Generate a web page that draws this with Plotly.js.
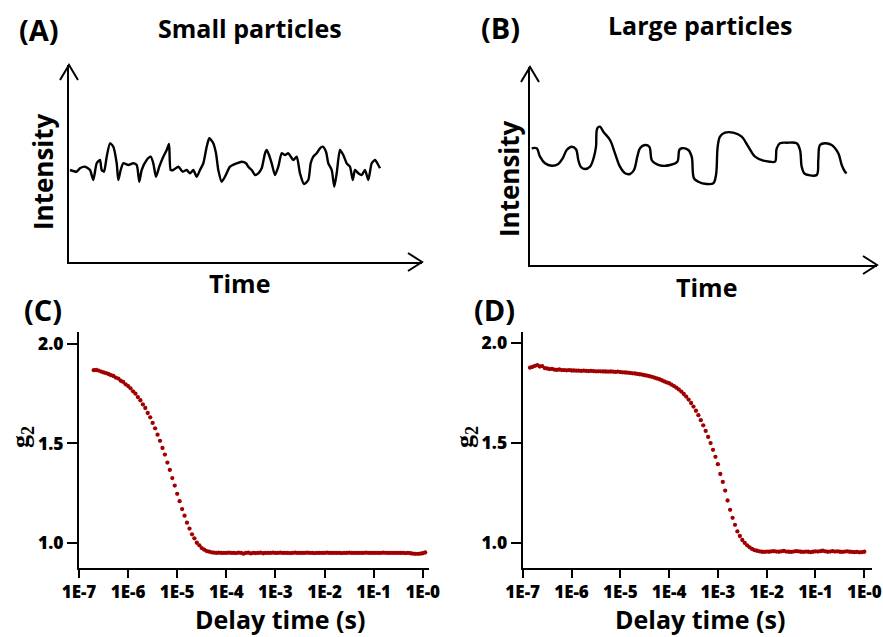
<!DOCTYPE html>
<html><head><meta charset="utf-8">
<script src="https://cdn.plot.ly/plotly-3.0.1.min.js"></script>
<style>html,body{margin:0;padding:0;background:#fff}#chart{width:883px;height:637px}</style>
</head><body><div id="chart"></div>
<script>
// (A) Small particles: intensity trace (arbitrary units)
const timeA = [1,7.7,11,16,21,24.3,27.7,31,32.7,35,37.7,41,44.3,47.7,49.3,51.7,54.3,59.3,64.3,67.7,70.3,72.7,77.7,81.7,84.3,87,90.3,94.3,97.7,100,101.7,104.3,109.3,113.7,117.7,121,124.3,127.7,131,134.3,137.7,140.3,144.3,147,149.3,152.7,156,161,167.7,172.7,177,179.3,182.7,186,189.3,192.7,196,197.7,200,202.7,206,209.3,212.7,216,219.3,224.3,227.7,231,235,239.3,241.7,244.3,247.7,251,253.7,257,259.3,262.7,265.3,267.7,271,274.3,277.7,281,283.7,286,289.3,292.7,296,299.3,302.7,306,309.3,311];
const intensityA = [92,90.3,93.7,95.3,92,82,98.7,102,92,90.3,105.3,118.7,115.3,98.7,82,92,98.7,97,98.7,97,80.3,92,102,105.3,98.7,85.3,95.3,105.3,112,118,92,92,95.3,90.3,92,88.7,92,85.3,92,98.7,115.3,123.7,118.7,108.7,92,80.3,85.3,95.3,98.7,100.3,98.7,95.3,92,87,88.7,93.7,108.7,112,107,98.7,87,95.3,108.7,107,108.7,102,105.3,88.7,78,82,98.7,105.3,108.7,113.7,115.3,110.3,98.7,92,75.3,88.7,112,107,98.7,95.3,82,92,88.7,87,92,82,98.7,102,97,93.7];

// (B) Large particles: intensity trace (arbitrary units)
const timeB = [1.7,6.7,10,15,21.7,28.3,32.7,36.7,41.7,46,48.3,50.7,55,60,64,66,67.3,70,73.3,80,85,90,95,100,104,107.3,110,115,119.3,121.7,125,131.7,140,147.3,149.3,151.7,158.3,161.7,164,168.3,176.7,183.3,186,187.7,190,195,203.3,211.7,218.3,225,233.3,240,245,246.7,250,256.7,266.7,270,271.7,274.3,278.3,286.7,288.3,290,295,301.7,308.3,311.7,315,316.7];
const intensityB = [116.7,116.7,108.3,101.7,99.3,101,106.7,115,118.3,115.7,105,98.3,96,98.3,108.3,118.3,136.7,138.3,133.3,125,111.7,98.3,91.7,91,95,108.3,116.7,120,118.3,105,101.7,99.3,100,103.3,115,116.7,115,108.3,86.7,83.3,81,81.7,90,118.3,128.3,132.3,132.3,128.3,118.3,108.3,104.3,103.3,103.3,116.7,121.7,122.3,121.7,115,98.3,91.7,90,90,105,120,121.7,120,111.7,100,93.3,91.7];

// (C),(D) correlation functions: delay time (s)
const delayTime = [
 1.41e-7,1.58e-7,1.78e-7,2.00e-7,2.24e-7,2.51e-7,2.82e-7,3.16e-7,3.55e-7,3.98e-7,4.47e-7,5.01e-7,5.62e-7,6.31e-7,7.08e-7,7.94e-7,8.91e-7,
 1.00e-6,1.12e-6,1.26e-6,1.41e-6,1.58e-6,1.78e-6,2.00e-6,2.24e-6,2.51e-6,2.82e-6,3.16e-6,3.55e-6,3.98e-6,4.47e-6,5.01e-6,5.62e-6,6.31e-6,7.08e-6,7.94e-6,8.91e-6,
 1.00e-5,1.12e-5,1.26e-5,1.41e-5,1.58e-5,1.78e-5,2.00e-5,2.24e-5,2.51e-5,2.82e-5,3.16e-5,3.55e-5,3.98e-5,4.47e-5,5.01e-5,5.62e-5,6.31e-5,7.08e-5,7.94e-5,8.91e-5,
 1.00e-4,1.12e-4,1.26e-4,1.41e-4,1.58e-4,1.78e-4,2.00e-4,2.24e-4,2.51e-4,2.82e-4,3.16e-4,3.55e-4,3.98e-4,4.47e-4,5.01e-4,5.62e-4,6.31e-4,7.08e-4,7.94e-4,8.91e-4,
 1.00e-3,1.12e-3,1.26e-3,1.41e-3,1.58e-3,1.78e-3,2.00e-3,2.24e-3,2.51e-3,2.82e-3,3.16e-3,3.55e-3,3.98e-3,4.47e-3,5.01e-3,5.62e-3,6.31e-3,7.08e-3,7.94e-3,8.91e-3,
 1.00e-2,1.12e-2,1.26e-2,1.41e-2,1.58e-2,1.78e-2,2.00e-2,2.24e-2,2.51e-2,2.82e-2,3.16e-2,3.55e-2,3.98e-2,4.47e-2,5.01e-2,5.62e-2,6.31e-2,7.08e-2,7.94e-2,8.91e-2,
 1.00e-1,1.12e-1,1.26e-1,1.41e-1,1.58e-1,1.78e-1,2.00e-1,2.24e-1,2.51e-1,2.82e-1,3.16e-1,3.55e-1,3.98e-1,4.47e-1,5.01e-1,5.62e-1,6.31e-1,7.08e-1,7.94e-1,8.91e-1,
 1.00,1.12];
const g2Small = [
 null,null,null,1.868,1.869,1.866,1.861,1.857,1.853,1.849,1.843,1.839,1.831,1.826,1.815,1.809,1.797,
 1.788,1.777,1.762,1.750,1.733,1.717,1.696,1.678,1.653,1.631,1.603,1.576,1.544,1.513,1.477,1.444,1.404,1.367,1.326,1.288,
 1.247,1.210,1.170,1.137,1.102,1.072,1.043,1.023,1.001,0.988,0.974,0.966,0.959,0.956,0.953,0.951,0.950,0.951,0.950,0.950,
 0.950,0.951,0.950,0.950,0.949,0.951,0.950,0.946,0.950,0.951,0.947,0.950,0.949,0.950,0.951,0.948,0.950,0.950,0.950,0.951,
 0.950,0.950,0.951,0.950,0.950,0.950,0.949,0.950,0.951,0.950,0.950,0.950,0.950,0.951,0.950,0.950,0.949,0.950,0.950,0.950,
 0.950,0.951,0.950,0.950,0.950,0.950,0.950,0.949,0.950,0.950,0.951,0.950,0.950,0.950,0.950,0.950,0.950,0.951,0.950,0.950,
 0.950,0.950,0.950,0.950,0.951,0.950,0.950,0.950,0.950,0.950,0.950,0.950,0.950,0.949,0.950,0.948,0.946,0.945,0.945,0.946,
 0.948,0.952];
const g2Large = [
 1.878,1.882,1.887,1.891,1.884,1.886,1.876,1.874,1.871,1.872,1.868,1.867,1.869,1.866,1.866,1.865,1.866,
 1.864,1.864,1.863,1.863,1.862,1.863,1.862,1.861,1.862,1.861,1.860,1.860,1.860,1.859,1.859,1.858,1.859,1.858,1.857,1.858,
 1.856,1.855,1.854,1.853,1.852,1.850,1.849,1.847,1.845,1.843,1.840,1.838,1.835,1.832,1.828,1.824,1.820,1.815,1.809,1.804,
 1.800,1.793,1.786,1.778,1.769,1.758,1.746,1.733,1.718,1.701,1.683,1.662,1.640,1.615,1.589,1.561,1.531,1.500,1.466,1.431,
 1.394,1.345,1.305,1.262,1.212,1.165,1.125,1.090,1.057,1.034,1.014,0.999,0.987,0.977,0.969,0.963,0.960,0.957,0.955,0.954,
 0.956,0.955,0.957,0.958,0.956,0.955,0.957,0.959,0.956,0.955,0.954,0.956,0.958,0.957,0.955,0.954,0.956,0.955,0.953,0.955,
 0.957,0.956,0.958,0.960,0.957,0.955,0.956,0.958,0.956,0.957,0.955,0.954,0.956,0.957,0.955,0.954,0.953,0.954,0.952,0.953,
 0.955,null];

const delayTickVals = [1e-7,1e-6,1e-5,1e-4,1e-3,1e-2,1e-1,1];
const delayTickText = ['1E-7','1E-6','1E-5','1E-4','1E-3','1E-2','1E-1','1E-0'];
const g2TickVals = [1.0,1.5,2.0];
const g2TickText = ['1.0','1.5','2.0'];

const W = 883, H = 637;
const FONT = '"Open Sans", sans-serif';
const fx = x => x / W, fy = y => 1 - y / H;

function plainAxis(d0, d1, range, anchor, isY) {
  return {domain: isY ? [fy(d1), fy(d0)] : [fx(d0), fx(d1)], range: range, anchor: anchor,
    showline: true, linecolor: '#000', linewidth: 2, ticks: '', showticklabels: false,
    showgrid: false, zeroline: false, fixedrange: true};
}
function logX(d0, d1, range, anchor) {
  return {type: 'log', domain: [fx(d0), fx(d1)], range: range, anchor: anchor,
    showline: true, linecolor: '#000', linewidth: 2, ticks: 'outside', ticklen: 8, tickwidth: 2, tickcolor: '#000',
    tickmode: 'array', tickvals: delayTickVals, ticktext: delayTickText,
    tickfont: {family: FONT, size: 17, color: '#000', weight: 800},
    showgrid: false, zeroline: false};
}
function g2Y(top, bottom, range, anchor) {
  return {domain: [fy(bottom), fy(top)], range: range, anchor: anchor,
    showline: true, linecolor: '#000', linewidth: 2, ticks: 'outside', ticklen: 10, tickwidth: 2, tickcolor: '#000',
    tickmode: 'array', tickvals: g2TickVals, ticktext: g2TickText,
    tickfont: {family: FONT, size: 17.5, color: '#000', weight: 800},
    showgrid: false, zeroline: false};
}

const traces = [
  {x: timeA, y: intensityA, xaxis: 'x', yaxis: 'y', type: 'scatter', mode: 'lines',
   line: {color: '#000', width: 2.4, shape: 'spline', smoothing: 0.6}, hoverinfo: 'skip'},
  {x: timeB, y: intensityB, xaxis: 'x2', yaxis: 'y2', type: 'scatter', mode: 'lines',
   line: {color: '#000', width: 2.4, shape: 'spline', smoothing: 1}, hoverinfo: 'skip'},
  {x: delayTime, y: g2Small, xaxis: 'x3', yaxis: 'y3', type: 'scatter', mode: 'markers',
   marker: {color: '#a00000', size: 4.3}},
  {x: delayTime, y: g2Large, xaxis: 'x4', yaxis: 'y4', type: 'scatter', mode: 'markers',
   marker: {color: '#a00000', size: 4.3}}
];

function arrowPath(pts) {
  return pts.map((p, i) => (i ? 'L' : 'M') + fx(p[0]) + ',' + fy(p[1])).join(' ');
}
const arrowStyle = {color: '#000', width: 2};
const shapes = [
  [[60,80],[69,65],[78,80]],
  [[408,253],[422,262],[408,271]],
  [[521,82],[530,67],[539,82]],
  [[863,256],[877,265],[863,274]]
].map(p => ({type: 'path', xref: 'paper', yref: 'paper', path: arrowPath(p), line: arrowStyle}));

function ann(text, x, y, size, extra) {
  return Object.assign({text: text, x: fx(x), y: fy(y), xref: 'paper', yref: 'paper',
    xanchor: 'center', yanchor: 'middle', showarrow: false,
    font: {family: FONT, size: size, color: '#000', weight: 'bold'}}, extra || {});
}
const serifFont = {family: '"Liberation Serif", "DejaVu Serif", serif', size: 26, color: '#000', weight: 'bold'};
const annotations = [
  ann('(A)', 39, 30, 29), ann('Small particles', 250, 28, 25),
  ann('(B)', 500, 28, 29), ann('Large particles', 700, 25, 25),
  ann('Intensity', 43, 172, 26, {textangle: -90}), ann('Time', 240, 283, 25),
  ann('Intensity', 509, 179, 26, {textangle: -90}), ann('Time', 706, 287, 25),
  ann('(C)', 43, 309, 29), ann('(D)', 494, 309, 29),
  ann('g<sub>2</sub>', 22, 437, 26, {textangle: -90, font: serifFont}),
  ann('g<sub>2</sub>', 466, 437, 26, {textangle: -90, font: serifFont}),
  ann('Delay time (s)', 280, 619, 25), ann('Delay time (s)', 700, 619, 25)
];

const layout = {
  width: W, height: H, margin: {l: 0, r: 0, t: 0, b: 0},
  paper_bgcolor: '#fff', plot_bgcolor: 'rgba(0,0,0,0)', showlegend: false,
  xaxis: plainAxis(69, 422, [0, 353], 'y', false),
  yaxis: plainAxis(65, 262, [0, 197], 'x', true),
  xaxis2: plainAxis(530, 877, [0, 347], 'y2', false),
  yaxis2: plainAxis(67, 265, [0, 198], 'x2', true),
  xaxis3: logX(79, 429, [-7, 0.128], 'y3'),
  yaxis3: g2Y(332, 568, [0.874, 2.06], 'x3'),
  xaxis4: logX(522.7, 872, [-7, 0.158], 'y4'),
  yaxis4: g2Y(332, 567.7, [0.875, 2.057], 'x4'),
  shapes: shapes, annotations: annotations
};
Plotly.newPlot('chart', traces, layout, {displayModeBar: false, staticPlot: true});
</script></body></html>
